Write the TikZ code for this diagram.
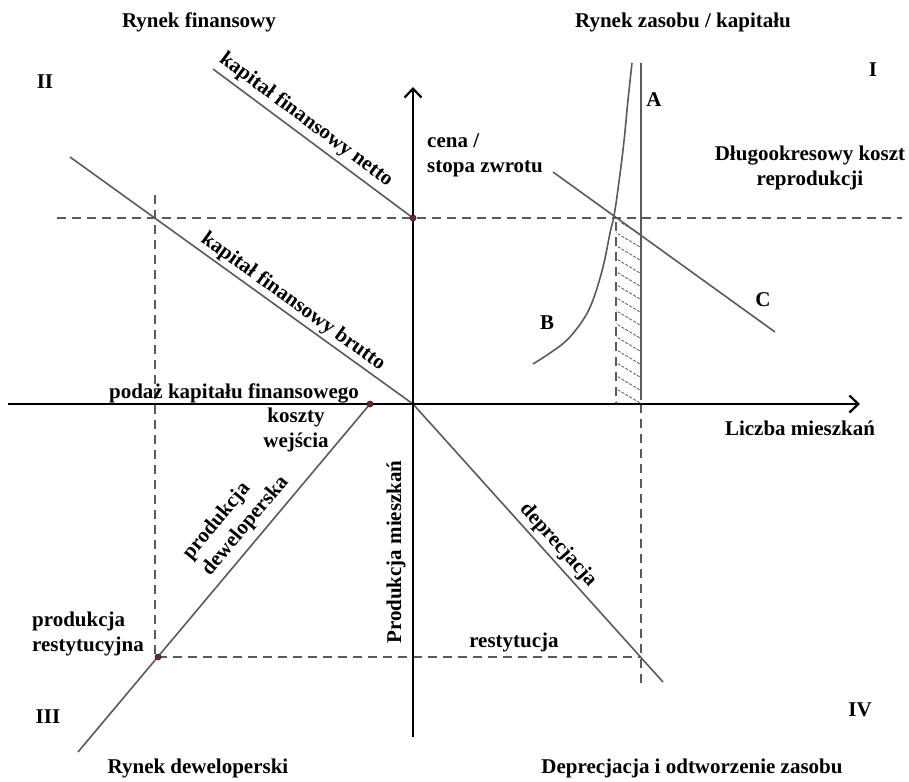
\documentclass[tikz,border=0pt]{standalone}
\usepackage{fontspec}
\setmainfont{Liberation Serif}
\usetikzlibrary{arrows.meta}
\definecolor{linegray}{HTML}{5A5A5A}
\definecolor{dotred}{HTML}{6B2A2A}
\begin{document}
\begin{tikzpicture}[x=1pt,y=-1pt,
  font=\fontsize{21}{25}\selectfont\bfseries,
  curve/.style={draw=linegray,line width=1.6pt},
  guide/.style={draw=linegray,line width=1.6pt,dash pattern=on 9pt off 6pt},
  hatch/.style={draw=linegray,line width=0.8pt,dash pattern=on 3pt off 1.5pt},
  axis/.style={draw=black,line width=2.4pt,-{Straight Barb[length=9pt,width=17pt,line width=2.2pt]}},
  lbl/.style={inner sep=0pt},
  dot/.style={circle,fill=dotred,draw=dotred!70!black,minimum size=6pt,inner sep=0pt}]
\useasboundingbox (0,0) rectangle (909,781);
% coordinates
\coordinate (O) at (413,404);
\coordinate (xs) at (8,404);
\coordinate (xe) at (860,404);
\coordinate (ys) at (413,737);
\coordinate (ye) at (413,87);
\coordinate (n1) at (213,69);
\coordinate (b1) at (70,157);
\coordinate (d2) at (663,682);
\coordinate (dev1) at (78,752);
\coordinate (c1) at (553,172);
\coordinate (c2) at (775,332);
\coordinate (a1) at (641,63);
\coordinate (a2) at (641,400);
\coordinate (a3) at (641,404);
\coordinate (a4) at (641,688);
\coordinate (h1) at (57,218);
\coordinate (h2) at (902,218);
\coordinate (v1) at (155,195);
\coordinate (v2) at (155,657);
\coordinate (hl1) at (158,657);
\coordinate (hl2) at (641,657);
\coordinate (s1) at (616,222);
\coordinate (s2) at (616,404);
% hatching
\begin{scope}
\clip (616,222) rectangle (641,404);
\foreach \k in {0,...,16}{
  \draw[hatch] (610,{216+13*\k}) -- (650,{240+13*\k});
}
\end{scope}
\draw[guide] (s1) -- (s2);
% dashed guides
\draw[guide] (h1) -- (h2);
\draw[guide] (v1) -- (v2);
\draw[guide] (hl1) -- (hl2);
\draw[guide] (a3) -- (a4);
% dots
\node[dot] (pN) at (413,218) {};
\node[dot] (pK) at (370,404) {};
\node[dot] (pR) at (158,657) {};
% curves
\draw[curve] (n1) -- (pN.center);
\draw[curve] (b1) -- (O);
\draw[curve] (O) -- (d2);
\draw[curve] (dev1) -- (pK.center);
\draw[curve] (c1) -- (c2);
\draw[curve] (a1) -- (a2);
\draw[curve] plot[smooth,tension=0.6] coordinates {(533,364) (550,353) (567,340) (583,320) (593,300) (603,267) (610,233) (615,210) (623,150) (628,100) (632,63)};
% labels
\node[lbl,anchor=base] (lpodaz) at (234,398) {podaż kapitału finansowego};
% axes
\draw[axis] (xs) -- (xe);
\draw[axis] (ys) -- (ye);
% redraw dots on top
\node[dot] at (pN) {};
\node[dot] at (pK) {};
\node[dot] at (pR) {};
% texts
\node[lbl] (t1) at (199,22) {Rynek finansowy};
\node[lbl] (t2) at (683,22) {Rynek zasobu / kapitału};
\node[lbl] (q2) at (45,82) {II};
\node[lbl] (q1) at (873,70) {I};
\node[lbl] (lA) at (654,100) {A};
\node[lbl,align=left,anchor=west] (lcena) at (427,155) {cena /\\stopa zwrotu};
\node[lbl,align=center] (ldk) at (810,168) {Długookresowy koszt\\reprodukcji};
\node[lbl] (lC) at (763,300) {C};
\node[lbl] (lB) at (547,323) {B};
\node[lbl] (lx) at (800,428) {Liczba mieszkań};
\node[lbl,align=center] (lkw) at (296,430) {koszty\\wejścia};
\node[lbl,rotate=-36.5] (lnetto) at (306,120) {kapitał finansowy netto};
\node[lbl,rotate=-35.8] (lbrutto) at (293,302) {kapitał finansowy brutto};
\node[lbl,rotate=-48] (ldep) at (558,545) {deprecjacja};
\node[lbl,rotate=50,align=left] (ldev) at (236,518) {produkcja\\deweloperska};
\node[lbl,rotate=90] (ly) at (396,552) {Produkcja mieszkań};
\node[lbl,align=left,anchor=west] (lpr) at (32,634) {produkcja\\restytucyjna};
\node[lbl] (lres) at (514,642) {restytucja};
\node[lbl] (q3) at (48,717) {III};
\node[lbl] (q4) at (860,710) {IV};
\node[lbl] (t3) at (198,768) {Rynek deweloperski};
\node[lbl] (t4) at (692,768) {Deprecjacja i odtworzenie zasobu};
\end{tikzpicture}
\end{document}
